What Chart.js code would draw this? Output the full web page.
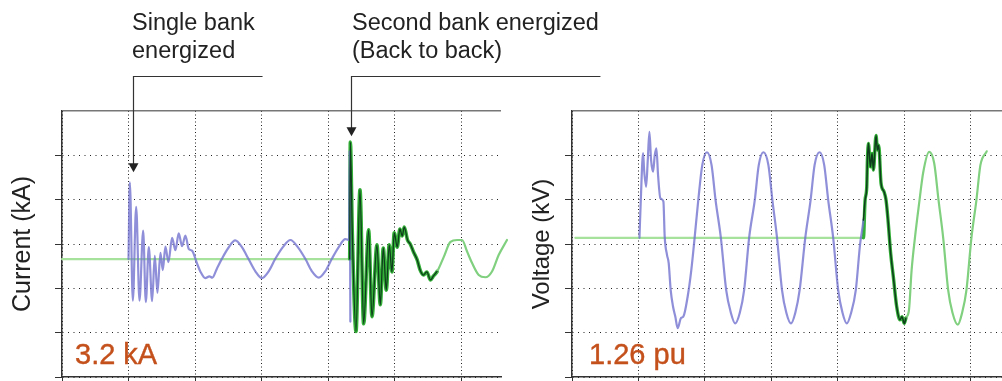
<!DOCTYPE html>
<html>
<head>
<meta charset="utf-8">
<script src="https://cdn.jsdelivr.net/npm/chart.js@4.4.1/dist/chart.umd.min.js"></script>
<style>
body { margin:0; background:#fff; width:1002px; height:381px; position:relative; overflow:hidden; font-family:"Liberation Sans", Arial, sans-serif; }
canvas { position:absolute; top:0; }
#cur { left:0; }
#volt { left:520px; }
.note { position:absolute; font-size:23.5px; line-height:28px; color:#222; white-space:nowrap; }
.peak { position:absolute; font-size:29px; line-height:29px; color:#c4501c; white-space:nowrap; -webkit-text-stroke:0.4px #c4501c; }
</style>
</head>
<body>
<canvas id="cur" width="620" height="381" style="width:620px;height:381px"></canvas>
<canvas id="volt" width="482" height="381" style="width:482px;height:381px"></canvas>
<div class="note" style="left:132px;top:8px">Single bank<br>energized</div>
<div class="note" style="left:352px;top:8px">Second bank energized<br>(Back to back)</div>
<div class="peak" style="left:75px;top:340px">3.2 kA</div>
<div class="peak" style="left:589px;top:340px">1.26 pu</div>
<script>
// time in ms (20 ms per division), values in grid divisions

// current, first bank
var bank1CurrT = [20.0, 20.4, 21.3, 22.3, 23.3, 24.4, 25.2, 26.1, 27.1, 27.9, 28.7, 29.6, 30.3, 31.1, 32.0, 33.1, 34.1, 35.1, 36.1, 37.1, 38.1, 39.1, 40.6, 41.6, 43.1, 44.3, 45.2, 46.6, 48.1, 50.0, 52.1, 54.1, 56.1, 58.1, 60.1, 62.2, 64.1, 66.4, 68.7, 70.9, 73.2, 75.1, 77.2, 79.2, 81.1, 83.2, 85.2, 86.3, 86.5, 86.7];
var bank1CurrV = [-0.34, 1.39, -1.28, 0.84, -1.28, 0.30, -1.31, -0.07, -1.29, -0.27, -1.10, -0.20, -0.59, -0.06, -0.41, 0.14, -0.14, 0.24, -0.05, 0.19, -0.11, -0.15, -0.44, -0.62, -0.77, -0.73, -0.76, -0.55, -0.33, -0.09, 0.08, -0.07, -0.34, -0.61, -0.77, -0.61, -0.34, -0.07, 0.09, -0.07, -0.34, -0.61, -0.76, -0.61, -0.34, -0.07, 0.11, 0.09, 2.10, -1.75];

// current, second bank (back to back)
var bank2CurrT = [0, 86.5, 86.7, 87.3, 88.4, 89.6, 90.7, 92.2, 93.2, 94.7, 95.7, 96.6, 97.5, 98.4, 99.2, 99.9, 100.8, 101.6, 102.3, 102.9, 103.9, 104.7, 105.7, 106.8, 107.7, 108.7, 109.7, 110.8, 111.7, 112.8, 114.8, 116.8, 118.8, 120.3, 121.8, 123.3, 125.3, 127.3, 129.3, 131.3, 133.8];
var bank2CurrV = [-0.34, -0.34, 2.30, 0.20, -1.97, 1.22, -1.80, 0.32, -1.64, -0.02, -1.37, -0.09, -1.04, -0.02, -0.63, 0.25, -0.07, 0.34, 0.18, 0.38, 0.09, 0.00, -0.18, -0.36, -0.59, -0.70, -0.63, -0.81, -0.72, -0.62, -0.29, 0.05, 0.09, 0.09, -0.17, -0.43, -0.70, -0.75, -0.62, -0.25, 0.09];

// bus voltage, first bank
var bank1VoltT = [20.3, 20.7, 21.4, 21.7, 22.3, 22.8, 23.3, 23.8, 24.4, 24.9, 25.4, 25.9, 26.6, 27.5, 27.9, 28.6, 29.1, 29.7, 30.4, 31.1, 31.8, 32.8, 33.5, 34.8, 35.9, 36.9, 38.0, 39.2, 40.6, 42.0, 43.2, 44.8, 46.4, 47.8, 49.1, 50.5, 51.8, 53.3, 55.0, 56.2, 57.6, 59.1, 60.3, 61.7, 63.2, 64.5, 65.9, 67.2, 68.5, 70.2, 71.8, 73.0, 74.5, 75.9, 77.1, 78.6, 80.1, 81.4, 82.7, 84.0, 85.4, 86.7, 87.7, 88.2, 88.7, 88.9, 89.2, 89.8, 90.3, 90.7, 91.5, 91.9, 92.3, 93.0, 93.9, 94.5, 95.1, 95.9, 96.7, 97.7, 98.7, 99.3, 100.0, 100.5];
var bank1VoltV = [0.14, 0.99, 2.05, 1.67, 1.29, 1.89, 2.53, 1.89, 1.63, 2.00, 2.16, 1.55, 1.03, 0.96, 0.16, -0.25, -0.43, -1.04, -1.41, -1.64, -1.90, -1.67, -1.64, -1.19, -0.59, 0.14, 0.99, 1.78, 2.07, 1.78, 0.99, 0.14, -1.04, -1.55, -1.79, -1.55, -1.04, 0.14, 0.99, 1.78, 2.07, 1.78, 0.99, 0.14, -1.04, -1.55, -1.79, -1.55, -1.04, 0.14, 0.99, 1.78, 2.07, 1.78, 0.99, 0.14, -1.04, -1.55, -1.79, -1.55, -1.04, 0.00, 0.54, 0.99, 1.29, 1.89, 2.27, 1.74, 2.04, 1.67, 2.45, 2.12, 2.23, 1.37, 1.18, 0.99, 0.54, -0.21, -0.74, -1.41, -1.71, -1.64, -1.79, -1.67];

// bus voltage, second bank: flat until it closes, then the tail after the transient
var voltBaseT = [1.0, 87.7];
var voltBaseV = [0.14, 0.14];
var bank2VoltT = [101.4, 102.2, 103.2, 104.4, 105.7, 107.5, 109.0, 110.3, 111.7, 113.2, 114.5, 116.1, 117.4, 118.7, 120.2, 121.7, 122.9, 124.8];
var bank2VoltV = [-1.49, -0.59, 0.14, 0.88, 1.62, 2.08, 1.82, 0.99, 0.14, -1.04, -1.55, -1.82, -1.55, -1.04, 0.14, 0.99, 1.78, 2.09];

var gridTicks = [-3, -2, -1, 0, 1, 2, 3];

function pts(t, v) {
  return t.map(function (x, i) { return { x: x, y: v[i] }; });
}

var LAVENDER = 'rgba(112,112,206,0.78)';
var PALE_GREEN = 'rgb(166,226,156)';
var LIGHT_GREEN = 'rgb(128,208,128)';
var BRIGHT_GREEN = 'rgb(52,176,56)';
var DARK_GREEN = 'rgb(14,60,28)';

function axes(xMax, yTitle, titleSize, axisWidth) {
  return {
    x: {
      type: 'linear', min: 0, max: xMax,
      ticks: { display: false, stepSize: 20, includeBounds: false },
      grid: { color: '#222', lineWidth: 1, drawTicks: true, tickLength: 5, tickColor: '#333', tickBorderDash: [] },
      border: { display: true, color: '#333', width: 1.5, dash: [1, 2.5] },
      afterFit: function (s) { s.height = 4; }
    },
    y: {
      type: 'linear', min: -3, max: 3,
      afterBuildTicks: function (s) { s.ticks = gridTicks.map(function (v) { return { value: v }; }); },
      ticks: { display: false },
      grid: {
        color: function (c) { return c.tick && c.tick.value === 3 ? '#777' : '#222'; },
        lineWidth: function (c) { return c.tick && c.tick.value === 3 ? 1.5 : 1; },
        tickLength: 7,
        tickColor: function (c) { return c.tick && c.tick.value === 3 ? 'rgba(0,0,0,0)' : '#333'; },
        tickBorderDash: []
      },
      border: {
        display: true, color: '#333', width: 1.5,
        dash: function (c) { return c.tick && c.tick.value === 3 ? [] : [1, 4.5]; }
      },
      title: {
        display: true, text: yTitle, color: '#222',
        font: { family: '"Liberation Sans", Arial, sans-serif', size: titleSize },
        padding: { top: 8, bottom: 0 }
      },
      afterFit: function (s) { s.width = axisWidth; }
    }
  };
}

// arrows from the notes down to the two energizing moments
var arrowPlugin = {
  id: 'arrows',
  afterDraw: function (chart) {
    var xs = chart.scales.x, ys = chart.scales.y, ctx = chart.ctx;
    var arrows = [{ t: 21.2, tip: 1.62, end: 60.3 }, { t: 86.9, tip: 2.43, end: 161.9 }];
    ctx.save();
    ctx.strokeStyle = '#333';
    ctx.fillStyle = '#222';
    ctx.lineWidth = 1.2;
    arrows.forEach(function (a) {
      var x = Math.round(xs.getPixelForValue(a.t)) + 0.5;
      var yTop = Math.round(ys.getPixelForValue(3.8)) + 0.5;
      var yTip = ys.getPixelForValue(a.tip);
      ctx.beginPath();
      ctx.moveTo(xs.getPixelForValue(a.end), yTop);
      ctx.lineTo(x, yTop);
      ctx.lineTo(x, yTip - 7);
      ctx.stroke();
      ctx.beginPath();
      ctx.moveTo(x - 5, yTip - 9);
      ctx.lineTo(x + 5, yTip - 9);
      ctx.lineTo(x, yTip);
      ctx.closePath();
      ctx.fill();
    });
    ctx.restore();
  }
};

var common = {
  responsive: false,
  animation: false,
  devicePixelRatio: 1,
  plugins: { legend: { display: false }, tooltip: { enabled: false } },
  elements: { point: { radius: 0 }, line: { cubicInterpolationMode: 'monotone', borderCapStyle: 'round', borderJoinStyle: 'round' } }
};

var curData2 = pts(bank2CurrT, bank2CurrV);
new Chart(document.getElementById('cur').getContext('2d'), {
  type: 'line',
  data: {
    datasets: [
      {
        label: 'overlap',
        data: curData2.filter(function (p) { return p.x >= 86.5 && p.x <= 112.8; }),
        borderColor: DARK_GREEN, borderWidth: 1.3, clip: 8
      },
      {
        label: 'Bank 1',
        data: pts(bank1CurrT, bank1CurrV),
        borderColor: LAVENDER, borderWidth: 2.2, clip: 8
      },
      {
        label: 'Bank 2',
        data: curData2,
        borderColor: LIGHT_GREEN, borderWidth: 2.2, clip: 8,
        segment: {
          borderColor: function (c) { var x = c.p0.parsed.x; return x < 86.5 ? PALE_GREEN : (x < 112.8 ? BRIGHT_GREEN : LIGHT_GREEN); },
          borderWidth: function (c) { var x = c.p0.parsed.x; return (x >= 86.5 && x < 112.8) ? 3.6 : 2.2; }
        }
      }
    ]
  },
  options: Object.assign({}, common, {
    layout: { padding: { top: 111, right: 119, bottom: 0, left: 0 } },
    scales: axes(132, 'Current (kA)', 25, 62)
  }),
  plugins: [arrowPlugin]
});

var voltData1 = pts(bank1VoltT, bank1VoltV);
var voltData2 = pts(voltBaseT, voltBaseV)
  .concat(voltData1.filter(function (p) { return p.x > 87.7; }))
  .concat(pts(bank2VoltT, bank2VoltV));
new Chart(document.getElementById('volt').getContext('2d'), {
  type: 'line',
  data: {
    datasets: [
      {
        label: 'Bank 1',
        data: voltData1,
        borderColor: LAVENDER, borderWidth: 2.2,
        segment: {
          borderColor: function (c) { return c.p0.parsed.x >= 87.7 ? DARK_GREEN : LAVENDER; },
          borderWidth: function (c) { return c.p0.parsed.x >= 87.7 ? 1.5 : 2.2; }
        }
      },
      {
        label: 'Bank 2',
        data: voltData2,
        borderColor: LIGHT_GREEN, borderWidth: 2.2,
        segment: {
          borderColor: function (c) { var x = c.p0.parsed.x; return x < 87.7 ? PALE_GREEN : (x < 100.5 ? BRIGHT_GREEN : LIGHT_GREEN); },
          borderWidth: function (c) { var x = c.p0.parsed.x; return (x >= 87.7 && x < 100.5) ? 3.4 : 2.2; }
        }
      }
    ]
  },
  options: Object.assign({}, common, {
    layout: { padding: { top: 111, right: 0, bottom: 0, left: 0 } },
    scales: axes(129.4, 'Voltage (kV)', 24, 52)
  })
});
</script>
</body>
</html>
